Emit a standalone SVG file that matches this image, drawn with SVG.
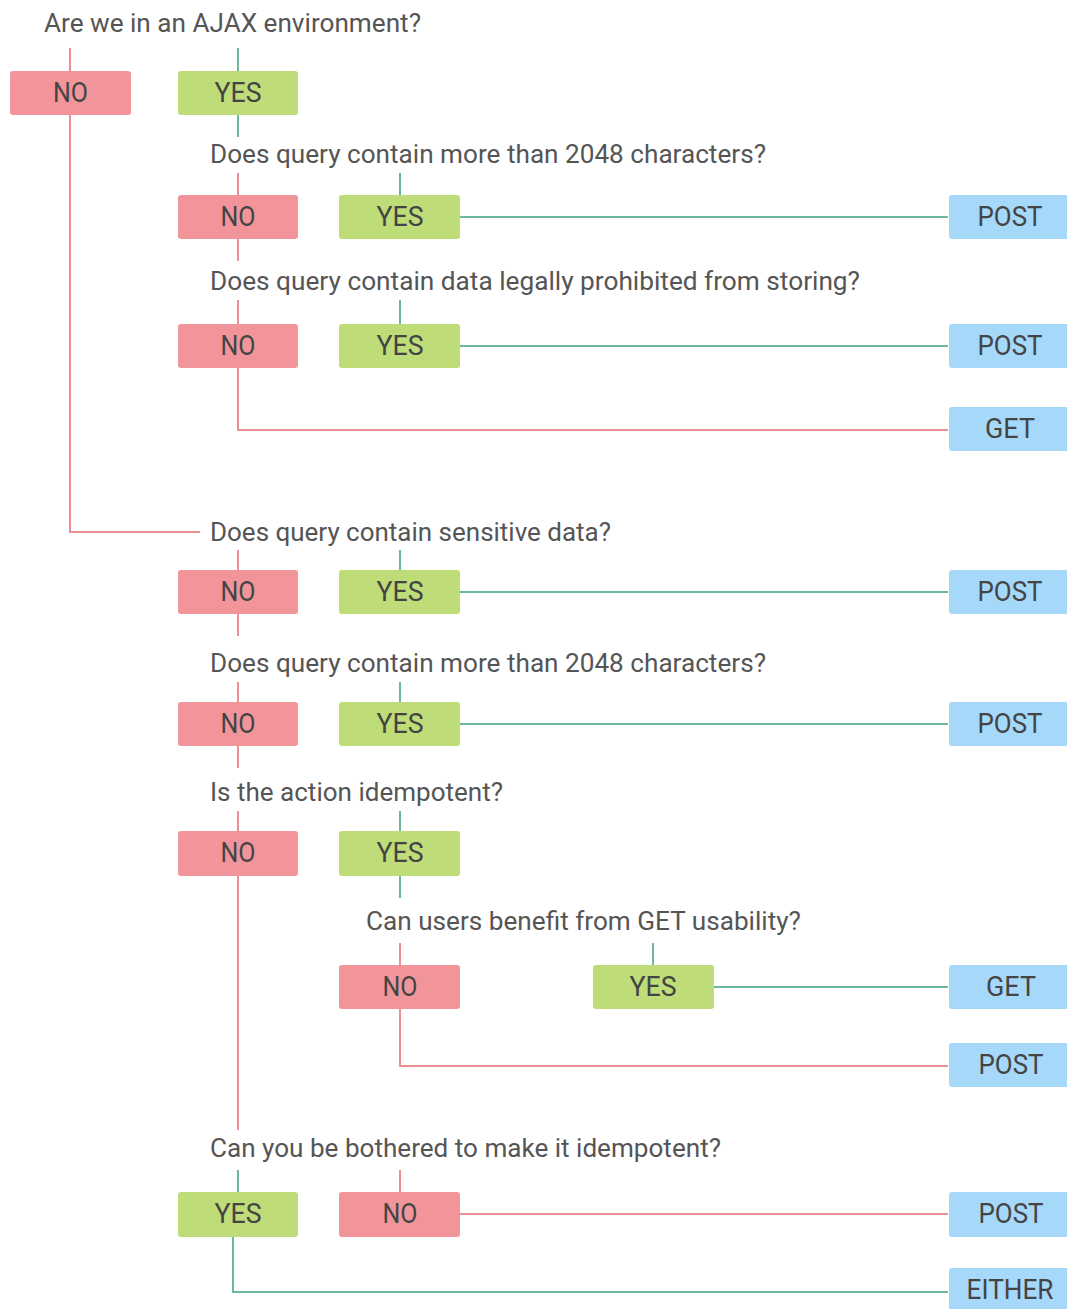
<svg xmlns="http://www.w3.org/2000/svg" width="1067" height="1309" viewBox="0 0 1067 1309">
<style>
.q{font-family:Roboto,"Liberation Sans",sans-serif;font-size:25px;fill:#555}
.l{font-family:Roboto,"Liberation Sans",sans-serif;font-size:27px;fill:#444;text-anchor:middle}
.no{fill:#F2959B}
.yes{fill:#BEDC77}
.out{fill:#A6D8FA}
.rl{stroke:#EC8F95;stroke-width:2;fill:none}
.gl{stroke:#6DB89A;stroke-width:2;fill:none}
</style>
<rect width="1067" height="1309" fill="#fff"/>
<g id="connectors">
<path class="rl" d="M70 48V71M70 115V532H200"/>
<path class="gl" d="M238 48V71M238 115V137"/>
<path class="rl" d="M238 173V195M238 239V261"/>
<path class="gl" d="M400 173V195M460 217H948"/>
<path class="rl" d="M238 300V324M238 368V430H948"/>
<path class="gl" d="M400 300V324M460 346H948"/>
<path class="rl" d="M238 550V570M238 614V636"/>
<path class="gl" d="M400 550V570M460 592H948"/>
<path class="rl" d="M238 682V702M238 746V768"/>
<path class="gl" d="M400 682V702M460 724H948"/>
<path class="rl" d="M238 811V831M238 876V1130"/>
<path class="gl" d="M400 811V831M400 876V898"/>
<path class="rl" d="M400 943V965M400 1009V1066H948"/>
<path class="gl" d="M653 943V965M714 987H948"/>
<path class="gl" d="M238 1170V1192M233 1237V1292H948"/>
<path class="rl" d="M400 1170V1192M460 1214H948"/>
</g>
<g id="q1"><text class="q" x="44" y="32" textLength="377" lengthAdjust="spacingAndGlyphs">Are we in an AJAX environment?</text></g>
<g id="q1-no"><rect class="no" x="10" y="71" width="121" height="44" rx="3"/><text class="l" x="70.5" y="102" textLength="35" lengthAdjust="spacingAndGlyphs">NO</text></g>
<g id="q1-yes"><rect class="yes" x="178" y="71" width="120" height="44" rx="3"/><text class="l" x="238" y="102" textLength="47" lengthAdjust="spacingAndGlyphs">YES</text></g>

<g id="q2"><text class="q" x="210" y="163" textLength="556" lengthAdjust="spacingAndGlyphs">Does query contain more than 2048 characters?</text></g>
<g id="q2-no"><rect class="no" x="178" y="195" width="120" height="44" rx="3"/><text class="l" x="238" y="226" textLength="35" lengthAdjust="spacingAndGlyphs">NO</text></g>
<g id="q2-yes"><rect class="yes" x="339" y="195" width="121" height="44" rx="3"/><text class="l" x="400" y="226" textLength="47" lengthAdjust="spacingAndGlyphs">YES</text></g>
<g id="r1"><rect class="out" x="949" y="195" width="121" height="44" rx="3"/><text class="l" x="1010" y="226" textLength="65" lengthAdjust="spacingAndGlyphs">POST</text></g>

<g id="q3"><text class="q" x="210" y="290" textLength="650" lengthAdjust="spacingAndGlyphs">Does query contain data legally prohibited from storing?</text></g>
<g id="q3-no"><rect class="no" x="178" y="324" width="120" height="44" rx="3"/><text class="l" x="238" y="355" textLength="35" lengthAdjust="spacingAndGlyphs">NO</text></g>
<g id="q3-yes"><rect class="yes" x="339" y="324" width="121" height="44" rx="3"/><text class="l" x="400" y="355" textLength="47" lengthAdjust="spacingAndGlyphs">YES</text></g>
<g id="r2"><rect class="out" x="949" y="324" width="121" height="44" rx="3"/><text class="l" x="1010" y="355" textLength="65" lengthAdjust="spacingAndGlyphs">POST</text></g>
<g id="r3"><rect class="out" x="949" y="407" width="121" height="44" rx="3"/><text class="l" x="1010" y="438" textLength="50" lengthAdjust="spacingAndGlyphs">GET</text></g>

<g id="q4"><text class="q" x="210" y="541" textLength="401" lengthAdjust="spacingAndGlyphs">Does query contain sensitive data?</text></g>
<g id="q4-no"><rect class="no" x="178" y="570" width="120" height="44" rx="3"/><text class="l" x="238" y="601" textLength="35" lengthAdjust="spacingAndGlyphs">NO</text></g>
<g id="q4-yes"><rect class="yes" x="339" y="570" width="121" height="44" rx="3"/><text class="l" x="400" y="601" textLength="47" lengthAdjust="spacingAndGlyphs">YES</text></g>
<g id="r4"><rect class="out" x="949" y="570" width="121" height="44" rx="3"/><text class="l" x="1010" y="601" textLength="65" lengthAdjust="spacingAndGlyphs">POST</text></g>

<g id="q5"><text class="q" x="210" y="672" textLength="556" lengthAdjust="spacingAndGlyphs">Does query contain more than 2048 characters?</text></g>
<g id="q5-no"><rect class="no" x="178" y="702" width="120" height="44" rx="3"/><text class="l" x="238" y="733" textLength="35" lengthAdjust="spacingAndGlyphs">NO</text></g>
<g id="q5-yes"><rect class="yes" x="339" y="702" width="121" height="44" rx="3"/><text class="l" x="400" y="733" textLength="47" lengthAdjust="spacingAndGlyphs">YES</text></g>
<g id="r5"><rect class="out" x="949" y="702" width="121" height="44" rx="3"/><text class="l" x="1010" y="733" textLength="65" lengthAdjust="spacingAndGlyphs">POST</text></g>

<g id="q6"><text class="q" x="210" y="801" textLength="293" lengthAdjust="spacingAndGlyphs">Is the action idempotent?</text></g>
<g id="q6-no"><rect class="no" x="178" y="831" width="120" height="45" rx="3"/><text class="l" x="238" y="862" textLength="35" lengthAdjust="spacingAndGlyphs">NO</text></g>
<g id="q6-yes"><rect class="yes" x="339" y="831" width="121" height="45" rx="3"/><text class="l" x="400" y="862" textLength="47" lengthAdjust="spacingAndGlyphs">YES</text></g>

<g id="q7"><text class="q" x="366" y="930" textLength="435" lengthAdjust="spacingAndGlyphs">Can users benefit from GET usability?</text></g>
<g id="q7-no"><rect class="no" x="339" y="965" width="121" height="44" rx="3"/><text class="l" x="400" y="996" textLength="35" lengthAdjust="spacingAndGlyphs">NO</text></g>
<g id="q7-yes"><rect class="yes" x="593" y="965" width="121" height="44" rx="3"/><text class="l" x="653" y="996" textLength="47" lengthAdjust="spacingAndGlyphs">YES</text></g>
<g id="r6"><rect class="out" x="949" y="965" width="121" height="44" rx="3"/><text class="l" x="1011" y="996" textLength="50" lengthAdjust="spacingAndGlyphs">GET</text></g>
<g id="r7"><rect class="out" x="949" y="1043" width="121" height="44" rx="3"/><text class="l" x="1011" y="1074" textLength="65" lengthAdjust="spacingAndGlyphs">POST</text></g>

<g id="q8"><text class="q" x="210" y="1157" textLength="511" lengthAdjust="spacingAndGlyphs">Can you be bothered to make it idempotent?</text></g>
<g id="q8-yes"><rect class="yes" x="178" y="1192" width="120" height="45" rx="3"/><text class="l" x="238" y="1223" textLength="47" lengthAdjust="spacingAndGlyphs">YES</text></g>
<g id="q8-no"><rect class="no" x="339" y="1192" width="121" height="45" rx="3"/><text class="l" x="400" y="1223" textLength="35" lengthAdjust="spacingAndGlyphs">NO</text></g>
<g id="r8"><rect class="out" x="949" y="1192" width="121" height="45" rx="3"/><text class="l" x="1011" y="1223" textLength="65" lengthAdjust="spacingAndGlyphs">POST</text></g>
<g id="r9"><rect class="out" x="949" y="1268" width="121" height="45" rx="3"/><text class="l" x="1010" y="1299" textLength="87" lengthAdjust="spacingAndGlyphs">EITHER</text></g>
</svg>
